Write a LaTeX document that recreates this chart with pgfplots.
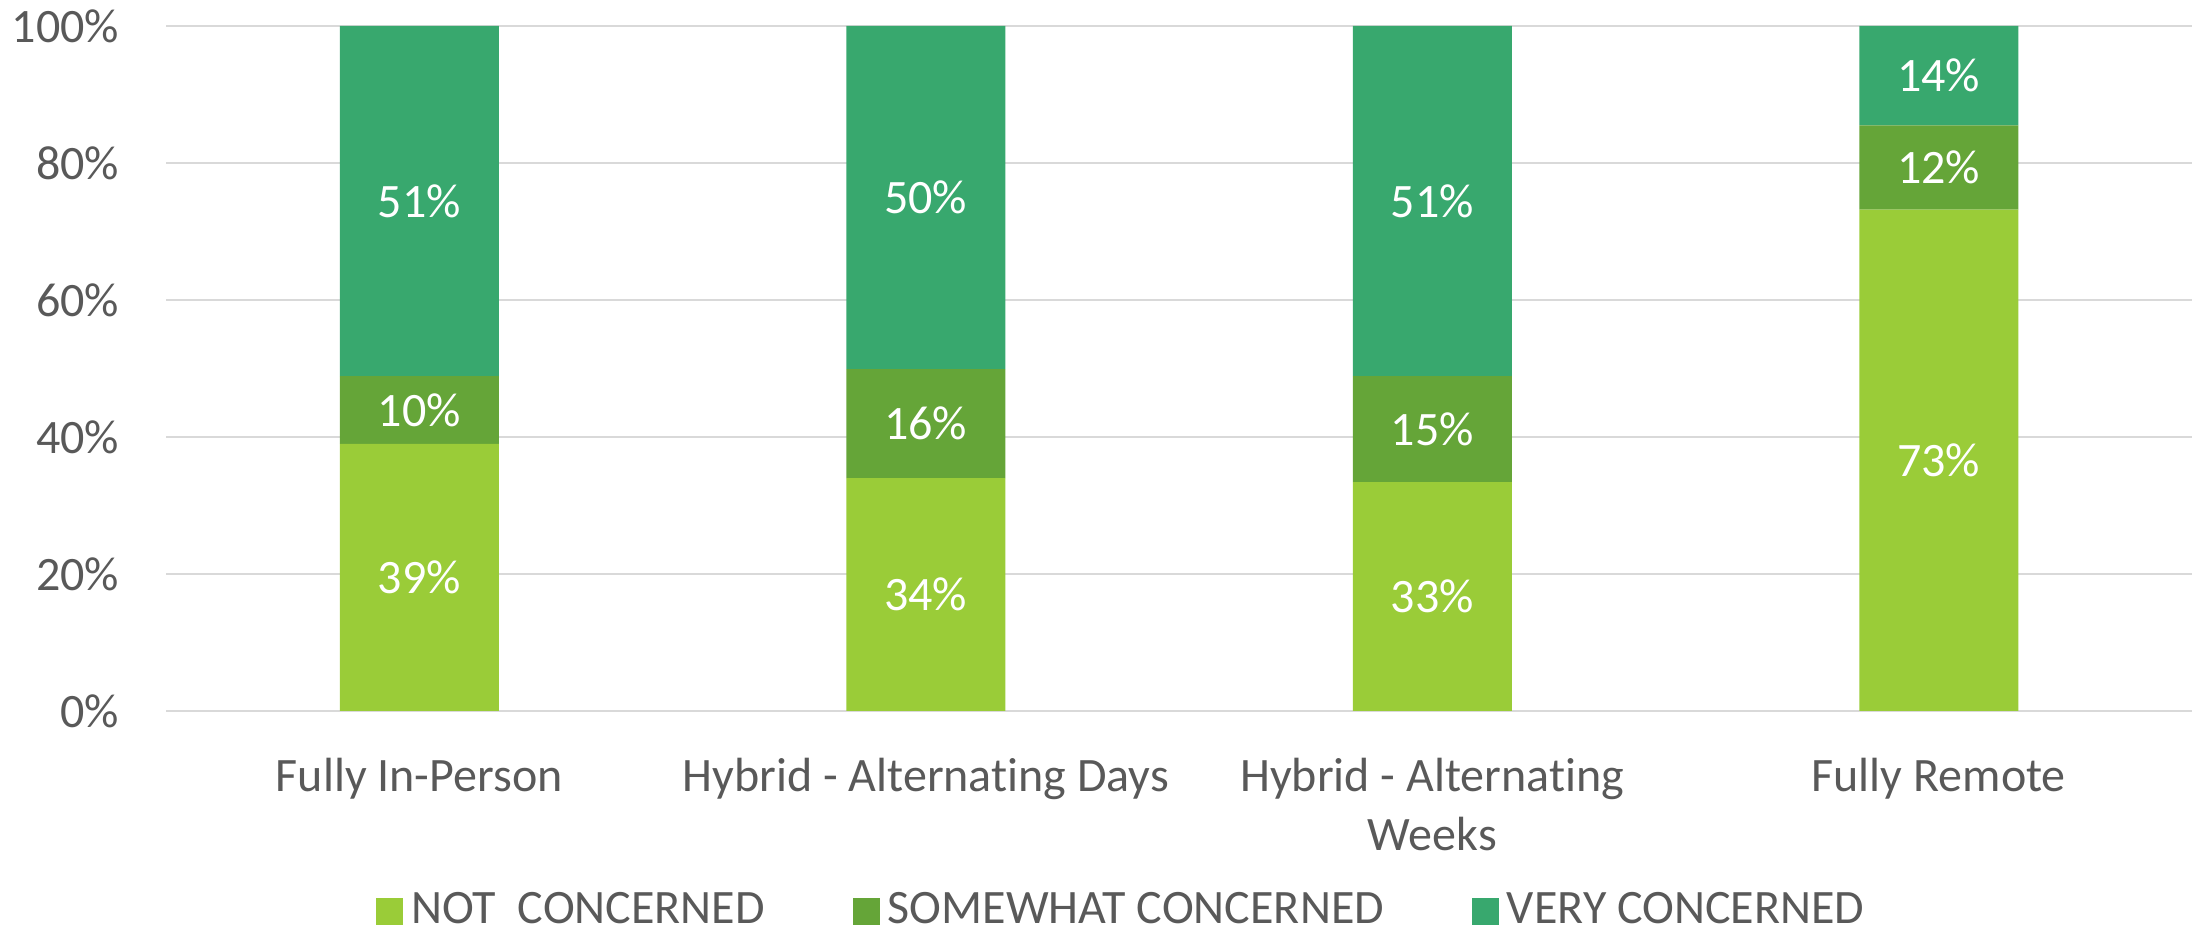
\documentclass[border=0pt]{standalone}
\usepackage{pgfplots}
\pgfplotsset{compat=1.18}
\usepackage{fontspec}
\setmainfont{Carlito}[Ligatures={NoCommon}]
\definecolor{cnot}{RGB}{154,204,56}
\definecolor{csome}{RGB}{101,165,56}
\definecolor{cvery}{RGB}{56,168,110}
\definecolor{txt}{RGB}{89,89,89}
\definecolor{gridc}{RGB}{217,217,217}
\pgfplotsset{
  base/.style={
    at={(41.5bp,55bp)}, anchor=south west,
    scale only axis, width=506.5bp, height=171.25bp,
    xmin=-0.5, xmax=3.5, ymin=0, ymax=100,
  }
}
\begin{document}
\begin{tikzpicture}
\useasboundingbox (0,0) rectangle (548.25bp,232.75bp);
\begin{axis}[base,
  ybar stacked, bar width=39.75bp,
  axis line style={draw=none},
  major tick length=0pt,
  ymajorgrids, grid style={color=gridc, line width=0.5bp},
  ytick={0,20,40,60,80,100},
  yticklabels={0\%,20\%,40\%,60\%,80\%,100\%},
  yticklabel style={font=\fontsize{12bp}{14.75bp}\selectfont, text=txt, inner sep=0pt, xshift=-11.5bp},
  xtick={0,1,2,3},
  xticklabels={Fully In-Person, Hybrid - Alternating Days, {Hybrid - Alternating\\Weeks}, Fully Remote},
  xticklabel style={font=\fontsize{12bp}{14.75bp}\selectfont, text=txt, align=center, inner sep=0pt, yshift=-11.5bp},
  ybar legend/.style={legend image code/.code={\fill[##1] (0bp,-3.375bp) rectangle (6.75bp,3.375bp);}},
  legend image code/.code={\fill[#1] (0bp,-3.375bp) rectangle (6.75bp,3.375bp);},
  legend columns=-1,
  legend style={at={(0.471,-0.292)}, anchor=center, draw=none, fill=none,
    font=\fontsize{12bp}{13bp}\selectfont, text=txt, inner sep=0pt,
    nodes={inner sep=0pt, anchor=west},
    /tikz/every odd column/.append style={column sep=2bp},
    /tikz/every even column/.append style={column sep=22bp}},
]
\addplot[fill=cnot, draw=none] coordinates {(0,39) (1,34) (2,33.4) (3,73.2)};
\addplot[fill=csome, draw=none] coordinates {(0,9.9) (1,15.9) (2,15.5) (3,12.3)};
\addplot[fill=cvery, draw=none] coordinates {(0,51.1) (1,50.1) (2,51.1) (3,14.5)};
\legend{NOT\ \ CONCERNED, SOMEWHAT CONCERNED, VERY CONCERNED}
\end{axis}
\begin{axis}[base, hide axis]
\addplot[draw=none, mark=none, point meta=explicit,
  nodes near coords={\pgfmathprintnumber[fixed,precision=0,assume math mode=true]{\pgfplotspointmeta}\%},
  nodes near coords style={anchor=center, text=white, inner sep=0pt, font=\fontsize{12bp}{13bp}\selectfont}]
  table[x=x, y=y, meta=v] {
x y v
0 19.5 39
0 43.95 10
0 74.45 51
1 17 34
1 41.95 16
1 74.95 50
2 16.7 33
2 41.15 15
2 74.45 51
3 36.6 73
3 79.35 12
3 92.75 14
};
\end{axis}
\end{tikzpicture}
\end{document}
